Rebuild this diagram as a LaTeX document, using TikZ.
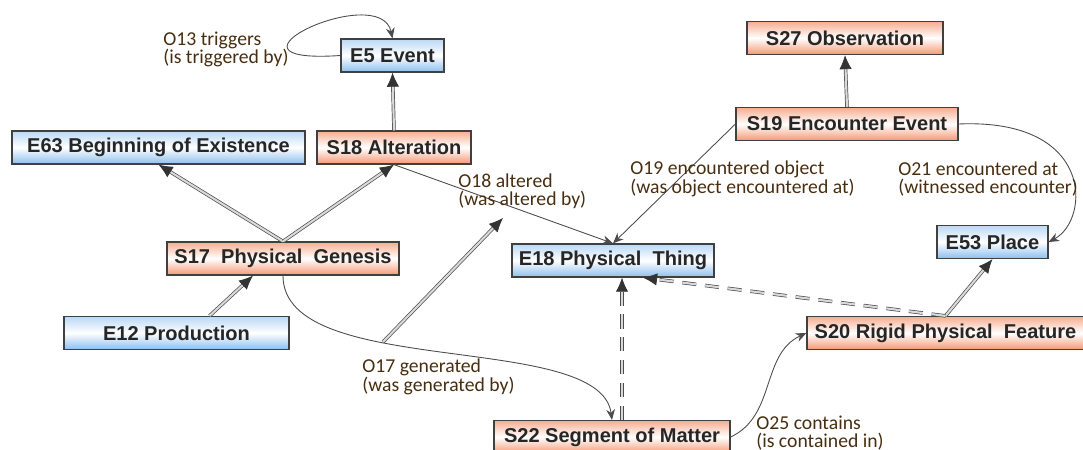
\documentclass[tikz,border=0pt]{standalone}
\usepackage{fontspec}
\setmainfont{Liberation Sans}
\newfontfamily\lblfont{Carlito}
\usetikzlibrary{arrows.meta,calc}
\definecolor{crmblue}{RGB}{140,190,238}
\definecolor{sciorange}{RGB}{244,152,116}
\definecolor{lblbrown}{RGB}{72,46,16}
\def\unit{0.02cm}

\begin{document}
\begin{tikzpicture}[x=\unit, y=-\unit]
    \tikzstyle{class}=[rectangle, draw=black!75, line width=0.7pt, minimum height=33*\unit, inner sep=0pt, font=\fontsize{11.4}{13}\selectfont\bfseries, text=black!85]
    \tikzstyle{crm class}=[class, top color=crmblue!60, bottom color=crmblue, middle color=white]
    \tikzstyle{sci class}=[class, top color=sciorange!80, bottom color=sciorange, middle color=white]
    \tikzstyle{annot}=[font=\lblfont\fontsize{11.2}{10.5}\selectfont, text=lblbrown, align=left, anchor=west, inner sep=0pt]
    \tikzstyle{isa line}=[draw=black!70, double=black!15, double distance=1.2pt, -, shorten >=6pt]
    \tikzstyle{isa tip}=[draw=black!15, line width=0.4pt, -{Latex[length=8pt,width=7pt,color=black!80]}]
    \tikzstyle{isa}=[isa tip, preaction={isa line}]
    \tikzstyle{isa dashed}=[isa tip, dash pattern=on 8pt off 5pt, preaction={isa line, dash pattern=on 8pt off 5pt}]
    \tikzstyle{rel}=[draw=black!70, line width=0.5pt, -{Stealth[length=6pt,width=5pt]}]

    \useasboundingbox (0,0) rectangle (1083,450);

    % Draw the class boxes
    \node[crm class, minimum width=103*\unit] (E5) at (392.5,55.5) {E5 Event};
    \node[crm class, minimum width=293*\unit] (E63) at (158.5,147.5) {E63 Beginning of Existence};
    \node[sci class, minimum width=154*\unit] (S18) at (394,147.5) {S18 Alteration};
    \node[sci class, minimum width=232*\unit] (S17) at (283,258.5) {S17\ \ Physical\ \ Genesis};
    \node[crm class, minimum width=225*\unit] (E12) at (176.5,333) {E12 Production};
    \node[crm class, minimum width=202*\unit] (E18) at (613,260.5) {E18 Physical\ \ Thing};
    \node[sci class, minimum width=196*\unit] (S27) at (845,38) {S27 Observation};
    \node[sci class, minimum width=222*\unit] (S19) at (847,124) {S19 Encounter Event};
    \node[crm class, minimum width=111*\unit] (E53) at (992.5,242) {E53 Place};
    \node[sci class, minimum width=277*\unit] (S20) at (945.5,333) {S20 Rigid Physical\ \ Feature};
    \node[sci class, minimum width=236*\unit] (S22) at (612,437) {S22 Segment of Matter};

    % Subclass links
    \draw[isa] (S18.north) -- (E5.south);
    \draw[isa] (S17.north) -- (E63.south);
    \draw[isa] (S17.north) -- (S18.south);
    \draw[isa] ($(E12.north)+(33,0)$) -- ($(S17.south)+(-30,0)$);
    \draw[isa] (S19.north) -- (S27.south);
    \draw[isa] (S20.north) -- (E53.south);
    \draw[isa dashed] ($(S22.north)+(10,0)$) -- ($(E18.south)+(9,0)$);
    \draw[isa dashed] (S20.north) -- ($(E18.south)+(30,0)$);

    % Direction of O17, drawn on its own
    \coordinate (o17 tail) at (383,342);
    \coordinate (o17 head) at (503,218);
    \draw[isa] (o17 tail) -- (o17 head);

    % Properties
    \draw[rel] (E5.west) .. controls (200,65) and (380,-20) .. (E5.north);
    \draw[rel] (S18.south) -- (E18.north);
    \draw[rel] (S19.west) -- (E18.north);
    \draw[rel] (S19.east) .. controls (1095,118) and (1090,220) .. (E53.east);
    \draw[rel] (S17.south) .. controls (283,380) and (600,330) .. (S22.north);
    \draw[rel] (S22.east) to[out=25, in=205] (S20.west);

    % Property labels
    \node[annot] (l13) at (163,49.5) {O13 triggers\\(is triggered by)};
    \node[annot] (l18) at (458,191) {O18 altered\\(was altered by)};
    \node[annot] (l19) at (630,179) {O19 encountered object\\(was object encountered at)};
    \node[annot] (l21) at (898,179) {O21 encountered at\\(witnessed encounter)};
    \node[annot] (l17) at (362,377) {O17 generated\\(was generated by)};
    \node[annot] (l25) at (756,433) {O25 contains\\(is contained in)};
\end{tikzpicture}
\end{document}
